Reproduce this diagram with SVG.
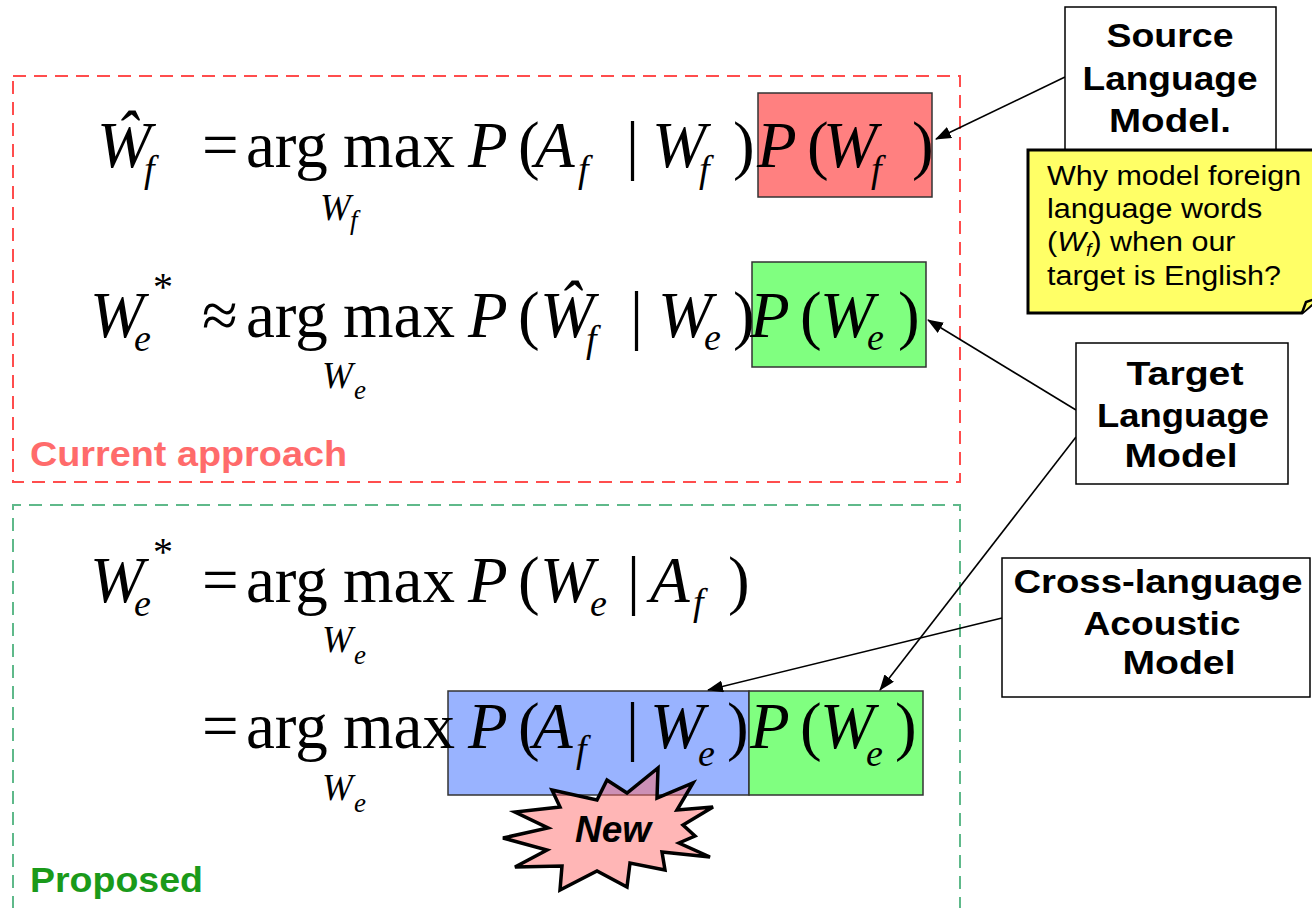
<svg xmlns="http://www.w3.org/2000/svg" width="1312" height="908" viewBox="0 0 1312 908">
  <style>
    .eq { font-family: "Liberation Serif", "Times New Roman", serif; font-size: 65px; fill: #000; }
    .i { font-style: italic; }
    .sub { font-size: 38px; font-style: italic; }
    .und { font-size: 37px; font-style: italic; }
    .und2 { font-size: 27px; font-style: italic; }
    .star { font-size: 40px; font-style: normal; }
    .lbl { font-family: "Liberation Sans", Arial, sans-serif; font-size: 33px; font-weight: bold; fill: #000; text-anchor: middle; }
    .box { fill: #fff; stroke: #000; stroke-width: 1.5; }
    .hl { stroke: #333; stroke-width: 1.5; }
    .conn { stroke: #000; stroke-width: 1.6; fill: none; marker-end: url(#arr); }
    .sect { font-family: "Liberation Sans", Arial, sans-serif; font-size: 35px; font-weight: bold; }
    .note { font-family: "Liberation Sans", Arial, sans-serif; font-size: 28px; fill: #000; }
  </style>
  <defs>
    <marker id="arr" markerUnits="userSpaceOnUse" markerWidth="16" markerHeight="12" refX="15" refY="6" orient="auto">
      <path d="M0,0 L16,6 L0,12 z" fill="#000"/>
    </marker>
  </defs>

  <rect width="1312" height="908" fill="#fff"/>

  <!-- section frames -->
  <g id="current-frame">
    <rect x="13" y="76" width="947" height="406" fill="none" stroke="#ff4d4d" stroke-width="2" stroke-dasharray="13,8"/>
    <text class="sect" x="30" y="466" fill="#ff6b6b" textLength="317" lengthAdjust="spacingAndGlyphs">Current approach</text>
  </g>
  <g id="proposed-frame">
    <path d="M13,930 V505 H960 V930" fill="none" stroke="#5fb98a" stroke-width="2" stroke-dasharray="13,8"/>
    <text class="sect" x="30" y="892" fill="#1a9a1a" textLength="173" lengthAdjust="spacingAndGlyphs">Proposed</text>
  </g>

  <!-- highlighted factors -->
  <g id="hl-source-lm"><rect class="hl" x="758" y="93" width="174" height="104" fill="#ff8080"/></g>
  <g id="hl-target-lm-1"><rect class="hl" x="752" y="262" width="174" height="105" fill="#80ff80"/></g>
  <g id="hl-acoustic"><rect class="hl" x="448" y="691" width="301" height="104" fill="#99b3ff"/></g>
  <g id="hl-target-lm-2"><rect class="hl" x="749" y="691" width="174" height="104" fill="#80ff80"/></g>

  <!-- equation 1: source-side decoding -->
  <g id="eq1">
    <text class="eq"><tspan class="i" x="97" y="167">Ŵ</tspan><tspan class="sub" x="144" y="182">f</tspan><tspan x="202" y="167">=</tspan><tspan x="246" y="167">arg</tspan><tspan x="343" y="167">max</tspan><tspan class="i" x="468" y="167">P</tspan><tspan x="518" y="167">(</tspan><tspan class="i" x="535" y="167">A</tspan><tspan class="sub" x="578" y="182">f</tspan><tspan x="626" y="167">|</tspan><tspan class="i" x="652" y="167">W</tspan><tspan class="sub" x="699" y="182">f</tspan><tspan x="733" y="167">)</tspan><tspan class="i" x="757" y="167">P</tspan><tspan x="807" y="167">(</tspan><tspan class="i" x="823" y="167">W</tspan><tspan class="sub" x="871" y="182">f</tspan><tspan x="912" y="167">)</tspan></text>
    <text class="eq"><tspan class="und" x="320" y="220">W</tspan><tspan class="und2" x="350" y="229">f</tspan></text>
  </g>

  <!-- equation 2: English decoding from the source hypothesis -->
  <g id="eq2">
    <text class="eq"><tspan class="i" x="90" y="337">W</tspan><tspan class="sub" x="134" y="351">e</tspan><tspan class="star" x="153" y="300">*</tspan><tspan x="202" y="337">≈</tspan><tspan x="246" y="337">arg</tspan><tspan x="343" y="337">max</tspan><tspan class="i" x="468" y="337">P</tspan><tspan x="518" y="337">(</tspan><tspan class="i" x="540" y="337">Ŵ</tspan><tspan class="sub" x="586" y="352">f</tspan><tspan x="630" y="337">|</tspan><tspan class="i" x="658" y="337">W</tspan><tspan class="sub" x="704" y="350">e</tspan><tspan x="733" y="337">)</tspan><tspan class="i" x="750" y="337">P</tspan><tspan x="800" y="337">(</tspan><tspan class="i" x="820" y="337">W</tspan><tspan class="sub" x="867" y="350">e</tspan><tspan x="898" y="337">)</tspan></text>
    <text class="eq"><tspan class="und" x="322" y="388">W</tspan><tspan class="und2" x="354" y="399">e</tspan></text>
  </g>

  <!-- equation 3: direct decoding -->
  <g id="eq3">
    <text class="eq"><tspan class="i" x="90" y="602">W</tspan><tspan class="sub" x="134" y="616">e</tspan><tspan class="star" x="153" y="565">*</tspan><tspan x="202" y="602">=</tspan><tspan x="246" y="602">arg</tspan><tspan x="343" y="602">max</tspan><tspan class="i" x="468" y="602">P</tspan><tspan x="518" y="602">(</tspan><tspan class="i" x="540" y="602">W</tspan><tspan class="sub" x="590" y="616">e</tspan><tspan x="627" y="602">|</tspan><tspan class="i" x="650" y="602">A</tspan><tspan class="sub" x="693" y="615">f</tspan><tspan x="728" y="602">)</tspan></text>
    <text class="eq"><tspan class="und" x="322" y="652">W</tspan><tspan class="und2" x="354" y="664">e</tspan></text>
  </g>

  <!-- equation 4: factored form -->
  <g id="eq4">
    <text class="eq"><tspan x="202" y="748">=</tspan><tspan x="246" y="748">arg</tspan><tspan x="343" y="748">max</tspan><tspan class="i" x="468" y="748">P</tspan><tspan x="518" y="748">(</tspan><tspan class="i" x="533" y="748">A</tspan><tspan class="sub" x="576" y="762">f</tspan><tspan x="626" y="748">|</tspan><tspan class="i" x="650" y="748">W</tspan><tspan class="sub" x="698" y="766">e</tspan><tspan x="727" y="748">)</tspan><tspan class="i" x="750" y="748">P</tspan><tspan x="800" y="748">(</tspan><tspan class="i" x="820" y="748">W</tspan><tspan class="sub" x="866" y="766">e</tspan><tspan x="895" y="748">)</tspan></text>
    <text class="eq"><tspan class="und" x="322" y="800">W</tspan><tspan class="und2" x="354" y="812">e</tspan></text>
  </g>

  <!-- "New" burst -->
  <g id="new-burst">
    <polygon points="503,838 548,828 515,812 560,807 552,790 597,800 607,780 627,793 658,768 657,798 693,783 677,810 713,807 683,825 695,836 679,843 710,857 662,852 665,870 630,863 627,887 597,871 560,890 562,866 515,867 547,850" fill="#ff6d6d" fill-opacity="0.5" stroke="#000" stroke-width="3.5" stroke-linejoin="miter"/>
    <text x="613" y="842" font-family="Liberation Sans, Arial, sans-serif" font-size="37" font-weight="bold" font-style="italic" text-anchor="middle" fill="#000">New</text>
  </g>

  <!-- connectors -->
  <g id="connectors">
    <line class="conn" x1="1065" y1="77" x2="936" y2="139"/>
    <line class="conn" x1="1076" y1="410" x2="928" y2="320"/>
    <line class="conn" x1="1076" y1="437" x2="880" y2="690"/>
    <line class="conn" x1="1002" y1="618" x2="708" y2="690"/>
  </g>

  <!-- labels -->
  <g id="source-lm">
    <rect class="box" x="1065" y="7" width="211" height="160"/>
    <text class="lbl" x="1170" y="47" textLength="127" lengthAdjust="spacingAndGlyphs">Source</text>
    <text class="lbl" x="1170" y="90" textLength="175" lengthAdjust="spacingAndGlyphs">Language</text>
    <text class="lbl" x="1170" y="132" textLength="122" lengthAdjust="spacingAndGlyphs">Model.</text>
  </g>

  <g id="why-note">
    <path d="M1028,150 H1322 V296 L1302,313 H1028 Z" fill="#ffff66" stroke="#000" stroke-width="3"/>
    <path d="M1302,313 L1306,302 L1318,298" fill="#ffff66" stroke="#000" stroke-width="2.5"/>
    <g transform="matrix(1.09 0 0 1 1047 0)">
      <text class="note" x="0" y="185">Why model foreign</text>
      <text class="note" x="0" y="218">language words</text>
      <text class="note" x="0" y="251">(<tspan font-style="italic">W</tspan><tspan font-style="italic" font-size="18" dy="5">f</tspan><tspan dy="-5">) when our</tspan></text>
      <text class="note" x="0" y="285">target is English?</text>
    </g>
  </g>

  <g id="target-lm">
    <rect class="box" x="1076" y="343" width="212" height="141"/>
    <text class="lbl" x="1185" y="385" textLength="117" lengthAdjust="spacingAndGlyphs">Target</text>
    <text class="lbl" x="1183" y="427" textLength="172" lengthAdjust="spacingAndGlyphs">Language</text>
    <text class="lbl" x="1181" y="467" textLength="113" lengthAdjust="spacingAndGlyphs">Model</text>
  </g>

  <g id="acoustic-model">
    <rect class="box" x="1002" y="558" width="308" height="139"/>
    <text class="lbl" x="1158" y="593" textLength="289" lengthAdjust="spacingAndGlyphs">Cross-language</text>
    <text class="lbl" x="1162" y="635" textLength="157" lengthAdjust="spacingAndGlyphs">Acoustic</text>
    <text class="lbl" x="1179" y="674" textLength="113" lengthAdjust="spacingAndGlyphs">Model</text>
  </g>
</svg>
